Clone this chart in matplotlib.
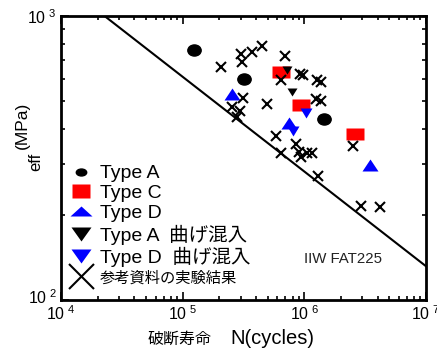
import matplotlib
matplotlib.use("Agg")
import matplotlib.pyplot as plt
from matplotlib.lines import Line2D
from matplotlib.markers import MarkerStyle
from matplotlib.transforms import Affine2D, ScaledTranslation
from matplotlib.ticker import FixedLocator, LogLocator, NullFormatter

plt.rcParams['font.family'] = ['Liberation Sans', 'Noto Sans CJK JP']
plt.rcParams['mathtext.fontset'] = 'custom'
plt.rcParams['mathtext.rm'] = 'Liberation Sans'

# data
type_a_N = [1.25e5, 3.2e5, 1.46e6]
type_a_S = [756, 598, 434]
type_c_N = [6.45e5, 9.45e5, 2.62e6]
type_c_S = [633, 485, 383]
type_d_N = [2.56e5, 7.55e5, 3.46e6]
type_d_S = [531, 420, 299]
type_a_bend_N = [7.15e5, 7.85e5]
type_a_bend_S = [644, 541]
type_d_bend_N = [1.03e6, 8.1e5]
type_d_bend_S = [456, 394]
ref_N = [2.07e5, 3.04e5, 3.10e5, 3.68e5, 4.46e5, 7.0e5, 6.46e5, 9.21e5, 9.75e5,
         1.278e6, 1.371e6, 1.247e6, 1.371e6, 4.89e5, 3.15e5, 2.53e5, 2.96e5,
         2.80e5, 5.88e5, 8.54e5, 6.49e5, 9.04e5, 9.39e5, 1.052e6, 1.167e6,
         1.302e6, 2.49e6, 2.92e6, 4.15e6]
ref_S = [661, 735, 687, 747, 784, 721, 594, 627, 620,
         597, 586, 510, 502, 489, 513, 480, 463,
         442, 378, 354, 328, 331, 320, 328, 328,
         273, 348, 214, 212]
fat_N = [2.28e4, 1e7]
fat_S = [1000, 131.5]

fig = plt.figure(figsize=(4.37, 3.49), dpi=100)
ax = fig.add_axes([61/437, 49/349, 365/437, 284/349])

ellipse = MarkerStyle('o', transform=Affine2D().scale(1.2, 1.0))
rect = MarkerStyle('s', transform=Affine2D().scale(1.33, 1.0))
tri_up = MarkerStyle('^', transform=Affine2D().scale(1.4, 1.0))
tri_dn = MarkerStyle('v', transform=Affine2D().scale(1.3, 1.0))

ax.plot(fat_N, fat_S, color='black', lw=1.5, zorder=2)
ax.plot(type_a_N, type_a_S, ls='none', marker=ellipse, ms=8, color='black', zorder=3)
ax.plot(type_c_N, type_c_S, ls='none', marker=rect, ms=9.3, color='red', mec='none', zorder=3)
ax.plot(type_d_N, type_d_S, ls='none', marker=tri_up, ms=8.6, color='blue', mec='none', zorder=4)
ax.plot(type_a_bend_N, type_a_bend_S, ls='none', marker=tri_dn, ms=5.5, color='black', mec='none', zorder=4)
ax.plot(type_d_bend_N, type_d_bend_S, ls='none', marker=tri_dn, ms=7, color='blue', mec='none', zorder=4)
ax.plot(ref_N, ref_S, ls='none', marker='x', ms=7.5, mew=1.5, color='black', zorder=5)

ax.text(9.9e5, 139, 'IIW FAT225', fontsize=10.8, color='#222222', va='center')

ax.set_xscale('log')
ax.set_yscale('log')
ax.set_xlim(1e4, 1e7)
ax.set_ylim(1e2, 1e3)
ax.xaxis.set_major_locator(FixedLocator([1e4, 1e5, 1e6, 1e7]))
ax.yaxis.set_major_locator(FixedLocator([1e2, 1e3]))
ax.xaxis.set_minor_locator(LogLocator(subs=range(2, 10), numticks=20))
ax.yaxis.set_minor_locator(LogLocator(subs=range(2, 10), numticks=20))
ax.xaxis.set_minor_formatter(NullFormatter())
ax.yaxis.set_minor_formatter(NullFormatter())
ax.set_xticklabels([r'$\mathregular{10^{\ 4}}$', r'$\mathregular{10^{\ 5}}$',
                    r'$\mathregular{10^{\ 6}}$', r'$\mathregular{10^{\ 7}}$'], fontsize=11.5)
ax.set_yticklabels([r'$\mathregular{10^{\ 2}}$', r'$\mathregular{10^{\ 3}}$'], fontsize=11.5)
ax.tick_params(which='both', direction='in', top=True, right=True, width=1.2)
ax.tick_params(which='major', length=6, pad=3)
ax.tick_params(which='minor', length=3)
for s in ax.spines.values():
    s.set_linewidth(2)
# lift the lower y label a little so it clears the 10^4 label
lbl = ax.get_yticklabels()[0]
lbl.set_transform(lbl.get_transform() + ScaledTranslation(0, 3/72, fig.dpi_scale_trans))

# axis labels
fig.text(148/437, 1 - 339/349, '破断寿命', fontsize=11.5, ha='left', va='center')
fig.text(230/437, 1 - 339/349, 'N(cycles)', fontsize=14.5, ha='left', va='center')
fig.text(22/437, 1 - 125/349, '(MPa)', fontsize=12.5, rotation=90, ha='center', va='center')
fig.text(36/437, 1 - 162/349, 'eff', fontsize=12, rotation=90, ha='center', va='center')

handles = [
    Line2D([], [], ls='none', marker=MarkerStyle('o', transform=Affine2D().scale(1.5, 1.0)), ms=5, color='black'),
    Line2D([], [], ls='none', marker=rect, ms=9.5, color='red', mec='none'),
    Line2D([], [], ls='none', marker=MarkerStyle('^', transform=Affine2D().scale(2.1, 1.0)), ms=7.5, color='blue', mec='none'),
    Line2D([], [], ls='none', marker=MarkerStyle('v', transform=Affine2D().scale(1.5, 1.0)), ms=9.5, color='black', mec='none'),
    Line2D([], [], ls='none', marker=MarkerStyle('v', transform=Affine2D().scale(1.5, 1.0)), ms=9.5, color='blue', mec='none'),
    Line2D([], [], ls='none', marker='x', ms=18, mew=1.5, color='black'),
]
labels = ['Type A', 'Type C', 'Type D', 'Type A  曲げ混入', 'Type D  曲げ混入', '参考資料の実験結果']
leg = ax.legend(handles, labels, loc='upper left', bbox_to_anchor=(0.008, 0.49),
                frameon=False, fontsize=14, handlelength=1.4, handletextpad=0.25,
                labelspacing=0.12, borderpad=0.2, borderaxespad=0.0)
leg.get_texts()[5].set_fontsize(11)

fig.savefig('out.png', dpi=100)
